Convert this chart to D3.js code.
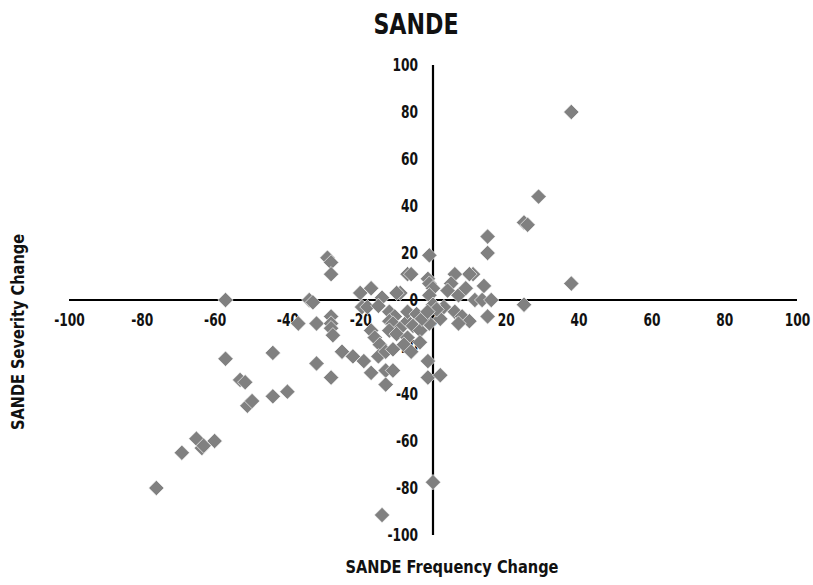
<!DOCTYPE html>
<html>
<head>
<meta charset="utf-8">
<title>SANDE</title>
<script src="https://cdn.jsdelivr.net/npm/d3@7"></script>
<style>
    body { margin: 0; background: #fff; }
    text { font-family: "Liberation Sans Narrow", "DejaVu Sans Condensed", "Liberation Sans", sans-serif; font-weight: bold; fill: #111; }
    .axis path { stroke: #000; stroke-width: 2.2px; }
    .axis line { display: none; }
    .axis text { font-size: 17px; }
</style>
</head>
<body>
<svg id="chart" width="813" height="585"></svg>
<script>
    // frequency change (x) / severity change (y)
    var freqChange = [
        38, 29, 25, 26, 15, 15, 38, 25, 15,
        11, 10, 6, 14, 11.5, 13.5, 16,
        5, 4, 7, 9, 3, 6, 8, 10, 7, 2,
        -1, -7, -6, -1.4, -1, 0, -1, 0, 1, -9,
        -2, -3, -1,
        -29, -28, -28, -34, -33, -20, -17, -14, -10,
        -19.5, -18, -15, -12, -10.5, -32, -37, -28, -28, -28, -27.5,
        -17, -16, -14.6, -12, -11, -9, -7, -5.5, -3.5, -12, -10, -7,
        -7, -4.5, -3, -1.5, -8, -6, -3.6,
        -25, -22, -19, -32, -17, -28, -13, -11, -13,
        -1.4, -1.4, 2, -15, -13, -11,
        -40,
        -57, -57, -44, -53, -51.6, -51, -49.7, -44, -65, -69, -63.5, -63, -60, -76,
        0, -14
    ];
    var sevChange = [
        80, 44, 33, 32, 27, 20, 7, -2, -7,
        11, 11, 11, 6, 0, 0, 0,
        7, 4, 2, 5, -3, -5, -7, -9, -10, -8,
        19, 11, 11, 9, 7, 5, 2, -2, -4, 3,
        -6, -8, -10,
        18, 16, 11, 0, -1, 3, 5, 1, 3,
        -3, -3, -2.5, -5, -7, -10, -10, -7, -10, -12, -15,
        -13, -16, -19, -9, -10, -12, -9, -11, -13, -13, -14.5, -16,
        -5, -6, -8, -5, -19, -22, -18,
        -22, -24, -26, -27, -31, -33, -30, -30, -36,
        -26, -33, -32, -24, -22, -21,
        -39,
        0, -25, -22.5, -34, -35, -45, -43, -41, -59, -65, -63, -62, -60, -80,
        -77.5, -91.5
    ];
    var xTicks = [-100, -80, -60, -40, -20, 0, 20, 40, 60, 80, 100];
    var yTicks = [-100, -80, -60, -40, -20, 0, 20, 40, 60, 80, 100];

    var points = freqChange.map(function(f, i) { return { x: f, y: sevChange[i] }; });

    var svg = d3.select("#chart");

    var x = d3.scaleLinear().domain([-100, 100]).range([69, 797]);
    var y = d3.scaleLinear().domain([-100, 100]).range([535, 65]);

    // squeeze text horizontally, the source glyphs are narrow and tall
    function squeeze(sel, k) {
        sel.each(function() {
            var len = this.getComputedTextLength();
            d3.select(this)
                .attr("textLength", len * k)
                .attr("lengthAdjust", "spacingAndGlyphs");
        });
    }

    svg.append("text")
        .attr("x", 416)
        .attr("y", 34)
        .attr("text-anchor", "middle")
        .style("font-size", "28px")
        .text("SANDE")
        .call(squeeze, 0.88);

    svg.append("g")
        .attr("class", "axis x-axis")
        .attr("transform", `translate(0,${y(0)})`)
        .call(d3.axisBottom(x).tickValues(xTicks).tickSize(0).tickPadding(14).tickFormat(d => String(d)))
        .call(g => g.select(".domain").attr("d", `M${x(-100)},0H${x(100)}`))
        .call(g => g.selectAll("text").call(squeeze, 0.8));

    svg.append("g")
        .attr("class", "axis y-axis")
        .attr("transform", `translate(${x(0)},0)`)
        .call(d3.axisLeft(y).tickValues(yTicks).tickSize(0).tickPadding(15).tickFormat(d => String(d)))
        .call(g => g.select(".domain").attr("d", `M0,${y(100)}V${y(-100)}`))
        .call(g => g.selectAll("text").call(squeeze, 0.8));

    svg.append("g")
        .attr("class", "points")
        .selectAll("path")
        .data(points)
        .enter()
        .append("path")
        .attr("d", d3.symbol(d3.symbolSquare, 118))
        .attr("transform", d => `translate(${x(d.x)},${y(d.y)}) rotate(45)`)
        .attr("fill", "#808080")
        .attr("stroke", "#fff")
        .attr("stroke-width", 0.6);

    svg.append("text")
        .attr("x", 452)
        .attr("y", 573)
        .attr("text-anchor", "middle")
        .style("font-size", "18px")
        .text("SANDE Frequency Change")
        .call(squeeze, 0.9);

    svg.append("text")
        .attr("transform", "translate(24,332) rotate(-90)")
        .attr("text-anchor", "middle")
        .style("font-size", "18px")
        .text("SANDE Severity Change")
        .call(squeeze, 0.9);
</script>
</body>
</html>
